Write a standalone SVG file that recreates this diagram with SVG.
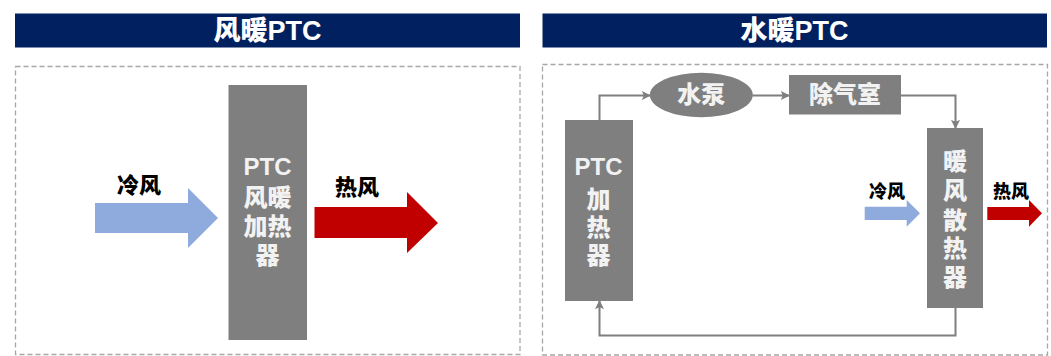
<svg xmlns="http://www.w3.org/2000/svg" width="1051" height="356" viewBox="0 0 1051 356">
<style>
text{font-family:"Liberation Sans","Noto Sans CJK SC",sans-serif;font-weight:700;text-anchor:middle}
.hdr{fill:#002060}
.ttl{fill:#fff;font-size:27px;font-weight:900}
.box{fill:#7f7f7f}
.lbl{fill:#f2f2f2;font-size:24px;font-weight:900}
.air{fill:#000;font-size:22px;font-weight:900}
.airs{fill:#000;font-size:18px;font-weight:900}
.frame{fill:none;stroke:#a6a6a6;stroke-width:1.3;stroke-dasharray:5 3}
.cold{fill:#8faadc}
.hot{fill:#c00000}
.link{fill:none;stroke:#7f7f7f;stroke-width:2}
</style>
<defs>
<marker id="tip" viewBox="0 0 10 10" refX="9" refY="5" markerWidth="9" markerHeight="9" markerUnits="userSpaceOnUse" orient="auto"><path d="M0 0L10 5L0 10L2 5Z" fill="#7f7f7f"/></marker>
</defs>
<rect width="1051" height="356" fill="#fff"/>
<g id="panel-air">
<rect class="hdr" x="15" y="13.500" width="505" height="34"/>
<text class="ttl" x="267.500" y="40">风暖PTC</text>
<rect class="frame" x="15.500" y="66.500" width="504.500" height="288"/>
</g>
<g id="panel-water">
<rect class="hdr" x="542.500" y="13.500" width="504.500" height="34"/>
<text class="ttl" x="794.500" y="40">水暖PTC</text>
<rect class="frame" x="542.500" y="64.500" width="505" height="290.500"/>
</g>
<g id="air-heater">
<rect class="box" x="228.500" y="85" width="78.500" height="255"/>
<text class="lbl"><tspan x="267.500" y="175">PTC</tspan><tspan x="267.500" y="206">风暖</tspan><tspan x="267.500" y="234.500">加热</tspan><tspan x="267.500" y="263.500">器</tspan></text>
</g>
<g id="air-cold">
<polygon class="cold" points="95,203 188,203 188,188 218,218 188,248 188,233 95,233"/>
<text class="air" x="139" y="193">冷风</text>
</g>
<g id="air-hot">
<polygon class="hot" points="314.500,207 407,207 407,192 438,223 407,253 407,238 314.500,238"/>
<text class="air" x="357" y="195">热风</text>
</g>
<g id="connectors">
<path class="link" marker-end="url(#tip)" d="M599.500 120V95.500H650"/>
<path class="link" marker-end="url(#tip)" d="M752.500 95.500H789"/>
<path class="link" marker-end="url(#tip)" d="M901 95.500H955.500V128"/>
<path class="link" marker-end="url(#tip)" d="M955.500 308V335.500H599.500V301"/>
</g>
<g id="water-pump">
<ellipse class="box" cx="701.300" cy="95" rx="51.500" ry="22.300"/>
<text class="lbl" x="701.300" y="103">水泵</text>
</g>
<g id="degas">
<rect class="box" x="789" y="75" width="112" height="39.500"/>
<text class="lbl" x="845" y="103">除气室</text>
</g>
<g id="water-heater">
<rect class="box" x="565" y="120" width="68" height="181"/>
<text class="lbl"><tspan x="598.500" y="175">PTC</tspan><tspan x="598.500" y="208">加</tspan><tspan x="598.500" y="236">热</tspan><tspan x="598.500" y="264">器</tspan></text>
</g>
<g id="radiator">
<rect class="box" x="927" y="128" width="56" height="180"/>
<text class="lbl"><tspan x="955" y="169.500">暖</tspan><tspan x="955" y="199">风</tspan><tspan x="955" y="228.500">散</tspan><tspan x="955" y="257">热</tspan><tspan x="955" y="286">器</tspan></text>
</g>
<g id="water-cold">
<polygon class="cold" points="864.700,206.700 906.700,206.700 906.700,200 920,213.300 906.700,226.700 906.700,220 864.700,220"/>
<text class="airs" x="887" y="198">冷风</text>
</g>
<g id="water-hot">
<polygon class="hot" points="987.300,207 1029,207 1029,200 1042,213.300 1029,226.700 1029,220 987.300,220"/>
<text class="airs" x="1011" y="198">热风</text>
</g>
</svg>
